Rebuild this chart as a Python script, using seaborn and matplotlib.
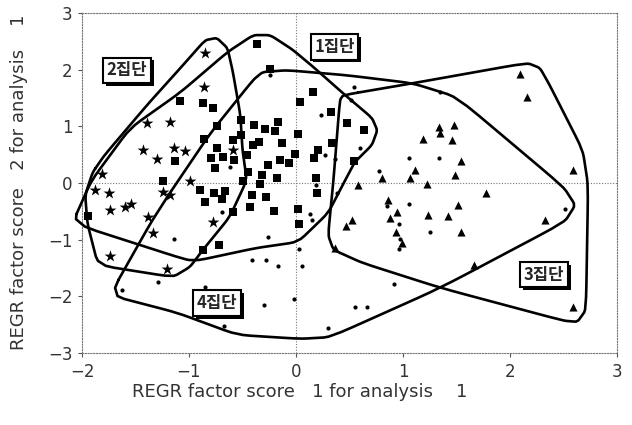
import matplotlib
matplotlib.use("Agg")
import numpy as np
import pandas as pd
import matplotlib.pyplot as plt
import matplotlib.patheffects as pe
import seaborn as sns

# 1집단 (squares)
sq_x = [-0.36, -1.08, -0.87, -0.78, -0.74, -0.86, -0.51, -0.39, -0.59, -0.51, -0.40, -0.74, -0.79,
        -0.68, -0.58, -0.76, -1.13, -0.46, -0.45, -1.24, -0.50, -0.24, 0.16, 0.04, 0.33, -0.17, 0.48,
        0.64, -0.29, -0.20, 0.02, -0.35, -0.13, -0.01, 0.21, 0.17, 0.34, -0.15, -0.07, -0.26, -0.32,
        -0.18, 0.19, 0.54, -0.34, -0.28, -0.21, 0.02, 0.03, 0.20, -1.94, -0.90, -0.77, -0.66, -0.85,
        -0.69, -0.41, -0.43, -0.59, -0.87, -0.72]
sq_y = [2.46, 1.45, 1.42, 1.33, 1.01, 0.77, 1.11, 1.02, 0.76, 0.85, 0.67, 0.61, 0.45,
        0.46, 0.41, 0.27, 0.38, 0.49, 0.20, 0.03, 0.04, 2.02, 1.60, 1.43, 1.26, 1.07, 1.06,
        0.93, 0.95, 0.91, 0.86, 0.73, 0.70, 0.51, 0.58, 0.44, 0.70, 0.41, 0.35, 0.32, 0.14,
        0.09, 0.09, 0.38, -0.01, -0.25, -0.49, -0.45, -0.72, -0.17, -0.59, -0.12, -0.18, -0.14, -0.33,
        -0.29, -0.21, -0.43, -0.52, -1.18, -1.09]

# 2집단 (stars)
star_x = [-0.85, -0.86, -1.39, -1.18, -1.43, -1.30, -1.14, -1.04, -1.81, -0.59, -0.99, -1.88,
          -1.75, -1.74, -1.60, -1.54, -1.38, -1.34, -1.24, -1.18, -1.74, -1.21, -0.78]
star_y = [2.30, 1.70, 1.06, 1.07, 0.58, 0.42, 0.61, 0.56, 0.16, 0.58, 0.04, -0.12,
          -0.18, -0.48, -0.42, -0.37, -0.60, -0.88, -0.15, -0.21, -1.29, -1.52, -0.68]

# 3집단 (triangles)
tri_x = [2.09, 2.16, 1.34, 1.48, 1.35, 1.46, 1.54, 1.49, 2.59, 1.19, 1.11, 1.07, 0.80, 1.22,
         0.58, 0.86, 0.94, 1.23, 0.88, 0.52, 0.47, 0.93, 0.99, 0.36, 1.78, 1.51, 1.42, 1.54,
         2.33, 1.66, 2.59]
tri_y = [1.92, 1.52, 0.99, 1.02, 0.89, 0.76, 0.38, 0.15, 0.23, 0.77, 0.23, 0.08, 0.08, -0.01,
         -0.04, -0.30, -0.52, -0.56, -0.62, -0.65, -0.76, -0.86, -1.06, -1.15, -0.18, -0.39, -0.58, -0.86,
         -0.65, -1.45, -2.18]

# 4집단 (small dots)
dot_x = [-0.24, 0.54, 0.51, 0.23, 0.60, 0.27, 0.36, 1.06, 0.78, 1.35, 1.34, 2.51, 1.25, 0.85,
         1.06, 0.96, 0.97, 0.96, 0.13, 0.15, -0.26, 0.03, -0.28, -0.17, 0.06, 0.92, -0.02, -0.30,
         0.55, 0.66, 0.30, 0.19, 0.38, -1.14, -0.69, -0.41, -1.29, -1.63, -0.85, -0.67, -0.62]
dot_y = [1.90, 1.70, 1.46, 1.20, 0.61, 0.49, 0.43, 0.45, 0.21, 1.60, 0.45, -0.45, -0.86, -0.41,
         -0.37, -0.72, -0.98, -1.17, -0.55, -0.66, -0.96, -1.17, -1.36, -1.46, -1.46, -1.78, -2.05, -2.15,
         -2.19, -2.18, -2.56, -0.04, -0.18, -0.99, -0.51, -1.36, -1.75, -1.88, -1.83, -2.52, 0.28]

# hand drawn cluster outlines
outline1_x = [-2.09, -1.91, -1.55, -1.08, -0.64, -0.40, -0.24, -0.03, 0.16, 0.46, 0.71, 0.76, 0.71,
              0.55, 0.46, 0.30, 0.02, -0.38, -0.90, -1.02]
outline1_y = [-0.71, 0.05, 0.97, 1.60, 2.31, 2.61, 2.61, 2.35, 2.05, 1.55, 1.15, 0.93, 0.67,
              0.37, 0.05, -0.53, -1.04, -1.15, -1.36, -1.36]
outline2_x = [-1.90, -1.79, -1.39, -1.08, -0.85, -0.74, -0.64, -0.59, -0.52, -0.50, -0.46, -0.62,
              -0.87, -0.99, -1.15, -1.85, -1.95, -1.97]
outline2_y = [0.19, 0.49, 1.38, 2.03, 2.52, 2.56, 2.38, 1.96, 1.20, 0.58, 0.05, -0.60,
              -1.18, -1.48, -1.66, -1.45, -0.71, -0.21]
outline3_x = [0.44, 1.09, 2.16, 2.28, 2.37, 2.68, 2.73, 2.71, 2.63, 2.50, 1.35, 0.62, 0.35, 0.30,
              0.35, 0.41]
outline3_y = [1.55, 1.76, 2.12, 2.03, 1.73, 0.58, -0.04, -2.24, -2.45, -2.43, -1.85, -1.41, -1.18, -0.92,
              0.05, 1.46]
outline4_x = [-1.74, -1.36, -1.18, -0.80, -0.40, -0.31, -0.08, 0.48, 1.09, 1.50, 2.50, 2.61, 2.51,
              1.35, 0.32, 0.04, -0.55, -1.11]
outline4_y = [-1.98, -0.71, -0.18, 0.88, 1.82, 1.96, 1.99, 1.90, 1.76, 1.52, -0.07, -0.39, -0.69,
              -1.85, -2.72, -2.75, -2.68, -2.29]

label_text = ["1집단", "2집단", "3집단", "4집단"]
label_x = [0.36, -1.58, 2.32, -0.74]
label_y = [2.40, 1.99, -1.62, -2.12]


def rund(xs, ys, cut=0.12, n=2):
    # leichte Eckenabrundung (Chaikin) fuer die handgezeichneten Umrisse
    p = np.column_stack([xs, ys])
    for _ in range(n):
        q = np.roll(p, -1, axis=0)
        a = (1 - cut) * p + cut * q
        b = cut * p + (1 - cut) * q
        p = np.empty((2 * len(a), 2))
        p[0::2] = a
        p[1::2] = b
    p = np.vstack([p, p[:1]])
    return p[:, 0], p[:, 1]


df = pd.concat([
    pd.DataFrame({"x": sq_x, "y": sq_y, "gruppe": "1집단"}),
    pd.DataFrame({"x": star_x, "y": star_y, "gruppe": "2집단"}),
    pd.DataFrame({"x": tri_x, "y": tri_y, "gruppe": "3집단"}),
    pd.DataFrame({"x": dot_x, "y": dot_y, "gruppe": "4집단"}),
])

sns.set_style("white")
plt.rcParams['font.family'] = ['DejaVu Sans', 'Noto Sans CJK KR']

fig = plt.figure(figsize=(6.32, 4.25), dpi=100)
ax = fig.add_axes([82 / 632, 72 / 425, 535 / 632, 340 / 425])

marker_map = {"1집단": ("s", 30), "2집단": ("*", 80), "3집단": ("^", 34), "4집단": ("o", 9)}
for gruppe, (m, s) in marker_map.items():
    sns.scatterplot(data=df[df["gruppe"] == gruppe], x="x", y="y", marker=m, s=s,
                    color="black", linewidth=0, ax=ax, legend=False, zorder=3)

for ox, oy in [(outline1_x, outline1_y), (outline2_x, outline2_y),
               (outline3_x, outline3_y), (outline4_x, outline4_y)]:
    sx, sy = rund(ox, oy)
    ax.plot(sx, sy, color="black", lw=1.9, solid_joinstyle="round",
            zorder=4, clip_on=False)

for t, lx, ly in zip(label_text, label_x, label_y):
    txt = ax.text(lx, ly, t, ha="center", va="center", fontsize=12, fontweight="bold",
                  family=["Noto Sans CJK KR", "DejaVu Sans"], zorder=6,
                  bbox=dict(boxstyle="square,pad=0.22", fc="white", ec="black", lw=1.5))
    txt.get_bbox_patch().set_path_effects([
        pe.SimplePatchShadow(offset=(2, -2), shadow_rgbFace="black", alpha=1.0), pe.Normal()])

ax.set_xlim(-2, 3)
ax.set_ylim(-3, 3)
ax.set_xticks([-2, -1, 0, 1, 2, 3])
ax.set_yticks([-3, -2, -1, 0, 1, 2, 3])
ax.set_xlabel("")
ax.set_ylabel("")
ax.axhline(0, color="#777777", lw=0.8, ls=(0, (1, 1.5)), zorder=1)
ax.axvline(0, color="#777777", lw=0.8, ls=(0, (1, 1.5)), zorder=1)
for sp in ax.spines.values():
    sp.set_linestyle((0, (1, 1.5)))
    sp.set_color("#777777")
    sp.set_linewidth(0.8)
ax.tick_params(bottom=True, left=True, direction="out", length=3, width=0.8,
               color="#555555", labelsize=12, labelcolor="#333333", pad=4)

fig.text(300 / 632, 1 - 392 / 425, "REGR factor score   1 for analysis    1",
         ha="center", va="center", fontsize=13, color="#333333")
fig.text(19 / 632, 1 - 182 / 425, "REGR factor score   2 for analysis    1",
         ha="center", va="center", rotation=90, fontsize=13, color="#333333")

plt.savefig("out.png", dpi=100)
plt.close()
